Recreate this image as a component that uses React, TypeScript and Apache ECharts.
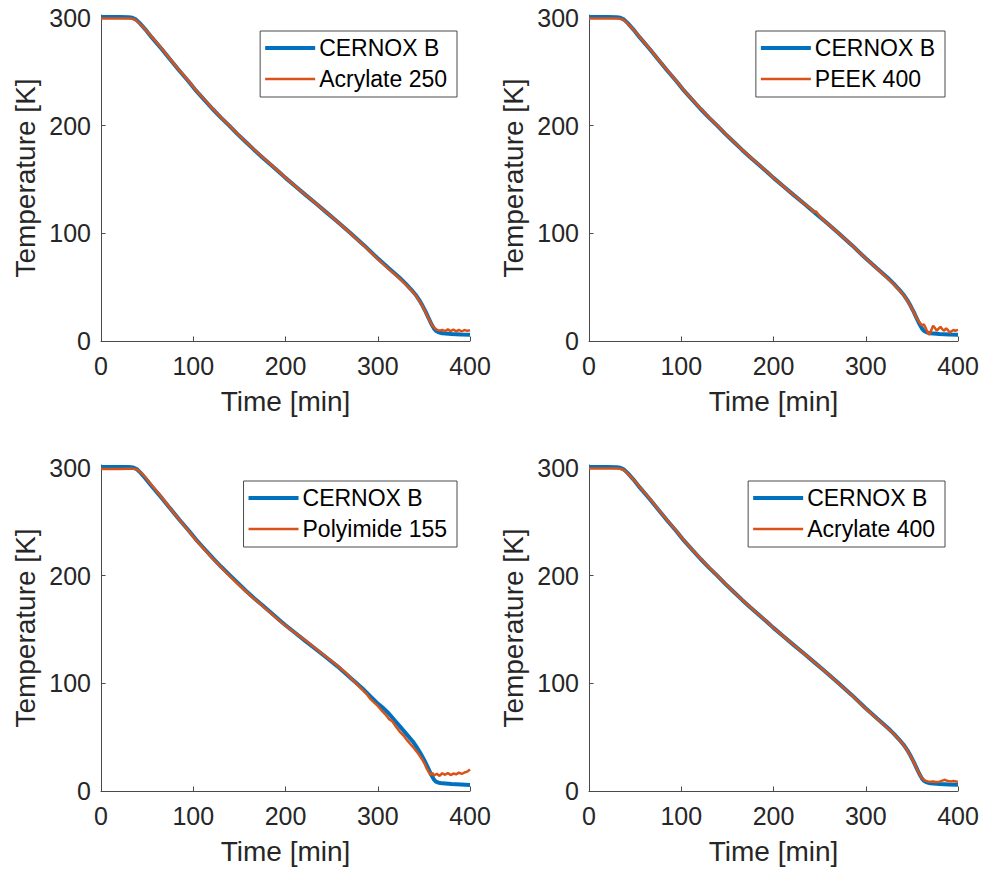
import React, { useEffect, useRef } from 'react';
import * as echarts from 'echarts';

const xTicks = [0, 100, 200, 300, 400];
const yTicks = [0, 100, 200, 300];
const xTitle = 'Time [min]';
const yTitle = 'Temperature [K]';
const refName = 'CERNOX B';
const sensorNames = ['Acrylate 250', 'PEEK 400', 'Polyimide 155', 'Acrylate 400'];

type Pt = [number, number];

const cernoxRun: Pt[] = [
  [0, 301], [10, 301], [20, 301], [30, 300.8], [34, 300.2], [38, 298.5], [42, 295.2], [48, 289.5],
  [55, 282], [66, 271], [75, 261.5], [85, 251], [95, 241], [103, 232.5], [112, 224], [121, 215.5],
  [130, 207.5], [139, 200], [148, 192.2], [157, 184.8], [166, 177.5], [175, 170.5], [185, 163],
  [193, 157], [200, 151.5], [211, 143.5], [222, 135.5], [234, 127], [245, 119], [256, 111],
  [270, 100.5], [285, 89], [299, 77.5], [312, 67.5], [324, 58.5], [330, 53.5], [336, 48],
  [341, 43], [345, 38], [349, 32], [352, 27], [355, 21.5], [358, 16], [361, 11.5], [363, 9.5],
  [366, 8], [370, 7.2], [380, 6.5], [390, 6], [400, 5.7],
];

const acrylate250: Pt[] = [
  [0, 299.5], [10, 299.5], [20, 299.5], [30, 299.6], [34, 299.3], [38, 298], [42, 294.8], [48, 289.5],
  [55, 282.5], [66, 271.5], [75, 261.8], [85, 251.4], [95, 241.4], [103, 232.8], [112, 224.3],
  [121, 215.8], [130, 207.8], [139, 200.3], [148, 192.4], [157, 185], [166, 177.7], [175, 170.8],
  [185, 163.2], [193, 157.2], [200, 151.6], [211, 143.5], [222, 135.5], [234, 127], [245, 119],
  [256, 111], [270, 100.3], [285, 88.6], [299, 77], [312, 66.8], [324, 57.8], [330, 52.8],
  [336, 47.5], [341, 42.5], [345, 37.5], [349, 31.5], [352, 26.5], [355, 21], [358, 16],
  [361, 12.5], [364, 10.5], [367, 9.6], [370, 10.3], [373, 9.1], [376, 10.8], [379, 9.2],
  [382, 10.6], [385, 9], [388, 10.4], [391, 8.8], [394, 10.2], [397, 9.4], [400, 10],
];

const peek400: Pt[] = [
  [0, 299.6], [10, 299.6], [20, 299.6], [30, 299.6], [34, 299.3], [38, 298], [42, 294.8], [48, 289.5],
  [55, 282.3], [66, 271.3], [75, 261.6], [85, 251.2], [95, 241.2], [103, 232.6], [112, 224.2],
  [121, 215.8], [130, 207.7], [139, 200.2], [148, 192.4], [157, 185], [166, 177.6], [175, 170.7],
  [185, 163.1], [193, 157.1], [200, 151.5], [211, 143.5], [222, 135.5], [234, 127], [241, 122.5],
  [244, 119.5], [246, 120.5], [249, 117], [256, 111], [270, 100.5], [285, 89], [299, 77.5],
  [312, 67.3], [324, 58], [330, 53], [336, 47.5], [341, 42.7], [345, 37.8], [349, 31.8], [352, 27],
  [355, 21.5], [358, 17.5], [361, 14.5], [363, 15.5], [365, 12], [367, 8], [369, 5.8], [371, 10],
  [373, 14.2], [375, 12], [377, 9.6], [379, 11.5], [381, 13.2], [383, 11], [385, 9.6], [387, 11.8],
  [389, 10.2], [391, 7.8], [393, 9], [395, 10.2], [397, 9.5], [400, 10.3],
];

const cernoxRun3: Pt[] = [
  [0, 301], [10, 301], [20, 301], [30, 301], [35, 300.5], [39, 298.8], [43, 295.5], [48, 290.5],
  [55, 283], [66, 272], [75, 262.5], [85, 252], [95, 242], [103, 233.5], [112, 225], [121, 216.5],
  [130, 208.5], [139, 201], [148, 193.5], [157, 186], [166, 179], [175, 172.5], [185, 165],
  [193, 159], [200, 154], [211, 146.5], [222, 139], [234, 131], [245, 123.5], [256, 116],
  [270, 105.5], [285, 94], [299, 82], [306, 77], [312, 72], [318, 66], [324, 60], [333, 51],
  [338, 46], [342, 41], [346, 35.5], [349, 31], [352, 26], [355, 20.5], [358, 15], [361, 10.5],
  [363, 8.7], [366, 7.7], [370, 7.1], [380, 6.4], [390, 6], [400, 5.6],
];

const polyimide155: Pt[] = [
  [0, 299], [10, 299], [20, 299], [30, 299.3], [35, 299.3], [39, 298.5], [43, 296], [48, 291.5],
  [55, 284], [66, 272.5], [75, 262.5], [85, 252], [95, 241.5], [103, 233], [112, 224.5], [121, 216],
  [130, 208], [139, 200], [148, 192.5], [157, 185.5], [166, 178.5], [175, 172], [185, 164.5],
  [193, 158.5], [200, 153.5], [211, 146.5], [222, 139.5], [234, 131.5], [245, 124], [256, 116.5],
  [265, 110], [272, 104], [280, 97], [288, 90], [292, 85.5], [295, 83], [300, 79], [304, 75],
  [308, 71.5], [312, 67], [316, 64.5], [320, 59.5], [324, 55], [328, 51.5], [332, 47], [336, 43],
  [340, 39], [344, 34.5], [348, 29.5], [351, 25], [353, 21], [355, 18], [357, 15], [359, 17],
  [361, 14.5], [364, 16], [367, 14], [370, 16.5], [373, 15], [376, 16.8], [379, 14.8], [382, 16.2],
  [385, 15.5], [388, 17], [391, 15.8], [394, 17.2], [397, 18], [400, 20],
];

const acrylate400: Pt[] = [
  [0, 299.6], [10, 299.6], [20, 299.6], [30, 299.6], [34, 299.3], [38, 298], [42, 294.8], [48, 289.5],
  [55, 282.4], [66, 271.4], [75, 261.7], [85, 251.3], [95, 241.3], [103, 232.7], [112, 224.2],
  [121, 215.8], [130, 207.7], [139, 200.2], [148, 192.3], [157, 184.9], [166, 177.6], [175, 170.6],
  [185, 163.1], [193, 157.1], [200, 151.5], [211, 143.5], [222, 135.5], [234, 127], [245, 119],
  [256, 111], [270, 100.4], [285, 88.8], [299, 77.3], [312, 67.2], [324, 58.2], [330, 53.2],
  [336, 47.8], [341, 42.8], [345, 37.8], [349, 31.8], [352, 26.8], [355, 21.3], [358, 16],
  [361, 12], [364, 9.6], [367, 8.9], [370, 8.6], [373, 8.9], [376, 8.4], [380, 8.7], [383, 9.6],
  [386, 10.4], [389, 9.2], [392, 8.9], [395, 9.3], [398, 8.8], [400, 8.6],
];

const refRuns: Pt[][] = [cernoxRun, cernoxRun, cernoxRun3, cernoxRun];
const sensorRuns: Pt[][] = [acrylate250, peek400, polyimide155, acrylate400];

const BLUE = '#0072BD';
const ORANGE = '#D95319';
const INK = '#262626';
const AXIS = '#4a4a4a';
const FONT = '"Liberation Sans", Arial, Helvetica, sans-serif';

const GRID_W = 369;
const GRID_H = 326;
const gridPos = [
  { left: 101, top: 15 },
  { left: 589, top: 15 },
  { left: 101, top: 465 },
  { left: 589, top: 465 },
];

function measure(text: string, size: number): number {
  const c = document.createElement('canvas').getContext('2d');
  if (!c) return text.length * size * 0.55;
  c.font = `${size}px "Liberation Sans"`;
  return c.measureText(text).width;
}

export default function App() {
  const ref = useRef<HTMLDivElement>(null);

  useEffect(() => {
    if (!ref.current) return;
    const chart = echarts.init(ref.current, undefined, { renderer: 'svg' });

    const grids: any[] = [];
    const xAxes: any[] = [];
    const yAxes: any[] = [];
    const series: any[] = [];
    const graphics: any[] = [];

    gridPos.forEach((g, i) => {
      grids.push({ left: g.left, top: g.top, width: GRID_W, height: GRID_H, containLabel: false });
      xAxes.push({
        type: 'value',
        gridIndex: i,
        min: 0,
        max: 400,
        interval: 100,
        splitLine: { show: false },
        axisLine: { show: true, onZero: false, lineStyle: { color: AXIS, width: 1 } },
        axisTick: { show: true, inside: true, length: 4.5, lineStyle: { color: AXIS }, customValues: xTicks },
        axisLabel: { color: INK, fontSize: 25, fontFamily: FONT, margin: 12, customValues: xTicks },
        name: xTitle,
        nameLocation: 'middle',
        nameGap: 46,
        nameTextStyle: { color: INK, fontSize: 28, fontFamily: FONT },
      });
      yAxes.push({
        type: 'value',
        gridIndex: i,
        min: 0,
        max: 302.8,
        splitLine: { show: false },
        axisLine: { show: true, onZero: false, lineStyle: { color: AXIS, width: 1 } },
        axisTick: { show: true, inside: true, length: 4.5, lineStyle: { color: AXIS }, customValues: yTicks },
        axisLabel: { color: INK, fontSize: 25, fontFamily: FONT, margin: 10, customValues: yTicks },
        name: yTitle,
        nameLocation: 'middle',
        nameRotate: 90,
        nameGap: 62,
        nameTextStyle: { color: INK, fontSize: 28, fontFamily: FONT },
      });
      series.push({
        type: 'line',
        name: refName,
        xAxisIndex: i,
        yAxisIndex: i,
        data: refRuns[i],
        symbol: 'none',
        showSymbol: false,
        lineStyle: { color: BLUE, width: 4 },
        z: 2,
      });
      series.push({
        type: 'line',
        name: sensorNames[i],
        xAxisIndex: i,
        yAxisIndex: i,
        data: sensorRuns[i],
        symbol: 'none',
        showSymbol: false,
        lineStyle: { color: ORANGE, width: 2.5 },
        z: 3,
      });

      // legend box
      const fs = 23;
      const tw = Math.max(measure(refName, fs), measure(sensorNames[i], fs));
      const boxW = 5 + 50 + 4 + tw + 10;
      const boxH = 66;
      const boxRight = g.left + GRID_W - 13;
      const boxLeft = boxRight - boxW;
      const boxTop = g.top + 16;
      const r1 = boxTop + 17;
      const r2 = boxTop + 48;
      graphics.push(
        {
          type: 'rect',
          shape: { x: boxLeft, y: boxTop, width: boxW, height: boxH },
          style: { fill: '#ffffff', stroke: AXIS, lineWidth: 1 },
          z: 10,
        },
        {
          type: 'line',
          shape: { x1: boxLeft + 5, y1: r1, x2: boxLeft + 55, y2: r1 },
          style: { stroke: BLUE, lineWidth: 4 },
          z: 11,
        },
        {
          type: 'line',
          shape: { x1: boxLeft + 5, y1: r2, x2: boxLeft + 55, y2: r2 },
          style: { stroke: ORANGE, lineWidth: 2.5 },
          z: 11,
        },
        {
          type: 'text',
          x: boxLeft + 59,
          y: r1,
          style: { text: refName, fill: '#000000', fontSize: fs, fontFamily: FONT, verticalAlign: 'middle', align: 'left' },
          z: 11,
        },
        {
          type: 'text',
          x: boxLeft + 59,
          y: r2,
          style: { text: sensorNames[i], fill: '#000000', fontSize: fs, fontFamily: FONT, verticalAlign: 'middle', align: 'left' },
          z: 11,
        }
      );
    });

    chart.setOption({
      animation: false,
      backgroundColor: '#ffffff',
      grid: grids,
      xAxis: xAxes,
      yAxis: yAxes,
      series,
      graphic: graphics,
    });

    return () => chart.dispose();
  }, []);

  return <div ref={ref} style={{ position: 'absolute', left: 0, top: 0, width: 984, height: 876 }} />;
}
